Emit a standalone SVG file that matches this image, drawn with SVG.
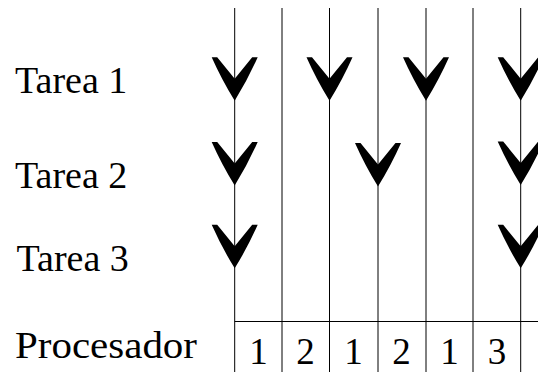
<svg xmlns="http://www.w3.org/2000/svg" width="538" height="372" viewBox="0 0 538 372">
  <style>
    .lbl { font-family: "Liberation Serif", "Times New Roman", serif; font-size: 38px; fill: #000; }
    .num { font-family: "Liberation Serif", "Times New Roman", serif; font-size: 37px; fill: #000; text-anchor: middle; }
    .line { stroke: #000; stroke-width: 1; fill: none; }
  </style>
  <defs>
    <!-- arrowhead drawn with its tip at the origin, pointing down -->
    <path id="head" d="M0,0 Q-13,-21 -23,-43.5 L-17.5,-43.5 L0,-22 L17.5,-43.5 L23,-43.5 Q13,-21 0,0 Z" fill="#000"/>
  </defs>

  <!-- row labels -->
  <g id="label-tarea1"><text class="lbl" x="15" y="93">Tarea 1</text></g>
  <g id="label-tarea2"><text class="lbl" x="15" y="188">Tarea 2</text></g>
  <g id="label-tarea3"><text class="lbl" x="16.5" y="271">Tarea 3</text></g>
  <g id="label-procesador"><text class="lbl" x="15" y="358" textLength="182" lengthAdjust="spacingAndGlyphs">Procesador</text></g>

  <!-- time slices -->
  <g id="timeline" class="line">
    <line x1="234.7" y1="8" x2="234.7" y2="372"/>
    <line x1="282" y1="8" x2="282" y2="372"/>
    <line x1="329.5" y1="8" x2="329.5" y2="372"/>
    <line x1="378" y1="8" x2="378" y2="372"/>
    <line x1="426" y1="8" x2="426" y2="372"/>
    <line x1="473" y1="8" x2="473" y2="372"/>
    <line x1="520.7" y1="8" x2="520.7" y2="372"/>
    <line x1="234.7" y1="321.5" x2="538" y2="321.5"/>
  </g>

  <!-- task arrivals -->
  <g id="connectors">
    <use href="#head" x="234.7" y="100.7"/>
    <use href="#head" x="329.5" y="100.7"/>
    <use href="#head" x="426" y="100.7"/>
    <use href="#head" x="520.7" y="100.7"/>
    <use href="#head" x="234.7" y="185.5"/>
    <use href="#head" x="378" y="186.5"/>
    <use href="#head" x="520.7" y="185"/>
    <use href="#head" x="234.7" y="268.3"/>
    <use href="#head" x="520.7" y="268.3"/>
  </g>

  <!-- processor assignment per slice -->
  <g id="processor">
    <text class="num" x="258.5" y="364">1</text>
    <text class="num" x="305.5" y="364">2</text>
    <text class="num" x="353.5" y="364">1</text>
    <text class="num" x="401.5" y="364">2</text>
    <text class="num" x="449.5" y="364">1</text>
    <text class="num" x="497" y="364">3</text>
  </g>
</svg>
